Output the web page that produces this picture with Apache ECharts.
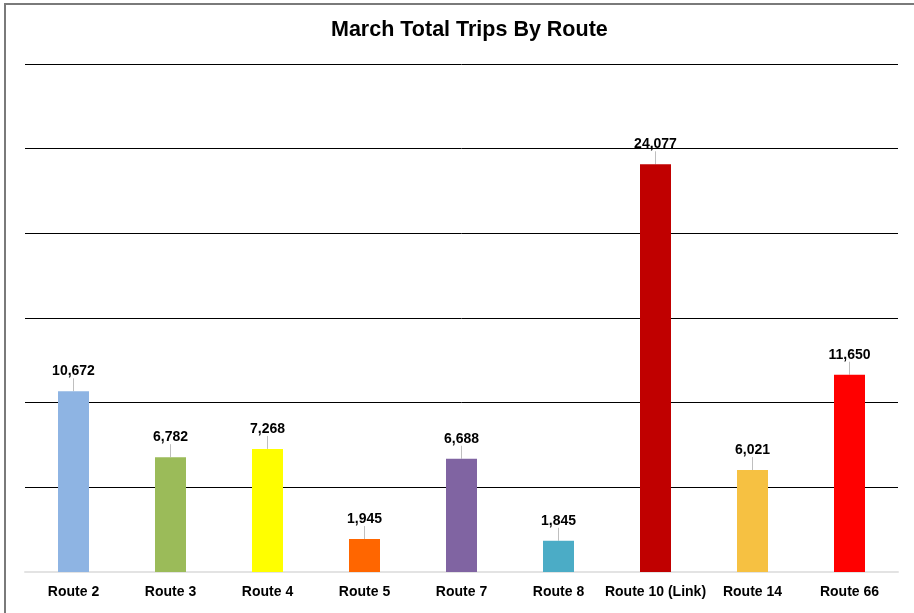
<!DOCTYPE html>
<html>
<head>
<meta charset="utf-8">
<script src="https://cdn.jsdelivr.net/npm/echarts@6/dist/echarts.min.js"></script>
<style>
html,body{margin:0;padding:0;background:#fff;}
#chart{width:914px;height:613px;}
</style>
</head>
<body>
<div id="chart"></div>
<script>
const categories = ["Route 2","Route 3","Route 4","Route 5","Route 7","Route 8","Route 10 (Link)","Route 14","Route 66"];
const trips = [10672, 6782, 7268, 1945, 6688, 1845, 24077, 6021, 11650];
const barColors = ["#8EB4E3","#9BBB59","#FFFF00","#FF6600","#8064A2","#4BACC6","#C00000","#F6C142","#FF0000"];
const yMax = 30000;
const yInterval = 5000;

const chart = echarts.init(document.getElementById('chart'), null, {renderer:'canvas'});
chart.setOption({
  animation:false,
  backgroundColor:'#fff',
  title:{
    text:'March Total Trips By Route',
    left:326, top:14,
    textStyle:{fontFamily:'Liberation Sans, Arial, sans-serif', fontWeight:'bold', fontSize:21.5, color:'#000'}
  },
  graphic:[
    {type:'line', shape:{x1:4.5,y1:4,x2:914,y2:4}, style:{stroke:'#7a7a7a', lineWidth:2}},
    {type:'line', shape:{x1:5,y1:3,x2:5,y2:613}, style:{stroke:'#7a7a7a', lineWidth:2}}
  ],
  grid:{left:25, right:16, top:64, bottom:41, containLabel:false},
  xAxis:{
    type:'category', data:categories,
    axisLine:{show:true, lineStyle:{color:'#e3e3e3', width:2}},
    axisTick:{show:false},
    axisLabel:{fontFamily:'Liberation Sans, Arial, sans-serif', fontWeight:'bold', fontSize:14, color:'#000', margin:13, interval:0}
  },
  yAxis:{
    type:'value', min:0, max:yMax, interval:yInterval,
    axisLabel:{show:false}, axisLine:{show:false}, axisTick:{show:false},
    splitLine:{show:true, lineStyle:{color:'#000', width:1}}
  },
  series:[{
    type:'bar',
    barWidth:31,
    data: trips.map((v,i)=>({value:v, itemStyle:{color:barColors[i]}})),
    label:{
      show:true, position:'top', distance:2,
      formatter:p=>p.value.toLocaleString('en-US'),
      fontFamily:'Liberation Sans, Arial, sans-serif', fontWeight:'bold', fontSize:14, color:'#000'
    },
    labelLayout:{dy:-11},
    labelLine:{show:true, lineStyle:{color:'#bfbfbf', width:1}}
  }]
});
</script>
</body>
</html>
